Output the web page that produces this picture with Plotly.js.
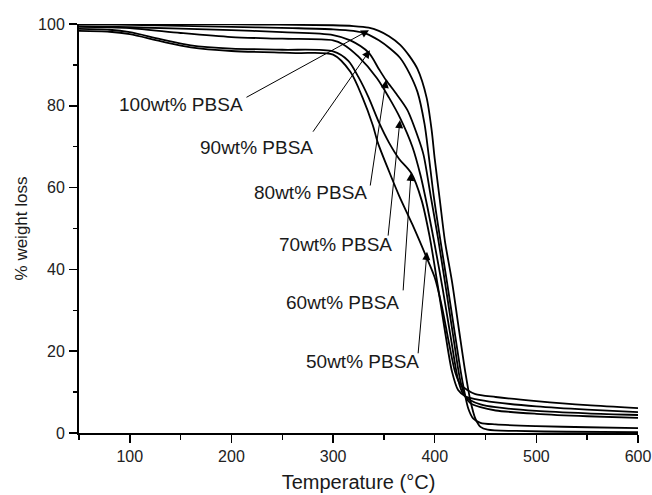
<!DOCTYPE html>
<html>
<head>
<meta charset="utf-8">
<script src="https://cdn.plot.ly/plotly-3.0.1.min.js"></script>
<style>html,body{margin:0;padding:0;background:#fff;}#chart{width:652px;height:495px;}</style>
</head>
<body>
<div id="chart"></div>
<script>
// Temperature (°C) and % weight for each sample
const tempA = [50,100,200,300,320,335,345,355,366,375,383,392,397,400,405,410,417,424,430,435,440,445,452,480,530,600];
const wtA   = [100,100,99.9,99.7,99.5,99.1,98.3,97,94.9,92.2,89,82,74,67,57,47,37,25,15,8,3.5,1.5,0.8,0.5,0.3,0.2];

const tempB = [50,100,200,260,300,320,333,345,356,366,375,383,390,394,399,405,412,420,427,433,438,445,460,500,550,600];
const wtB   = [100,99.8,99.3,99,98.7,98.3,97.6,96,94,91.7,88,83.4,75.5,68,58,48,37,24,13,6,3.5,2.5,2.1,1.7,1.4,1.2];

const tempC = [50,100,200,250,300,317,335,345,352,362,373,384,389,396,403,410,418,425,430,435,445,460,500,550,600];
const wtC   = [99.5,99.2,98.5,98,97.3,96,93,89,86.3,83,79,72,68,58,48,37,24,13,9,7.3,6.3,5.5,4.7,4.1,3.7];

const tempD = [50,100,150,200,250,300,310,325,343,355,366,378,386,393,400,408,416,423,428,435,445,460,500,550,600];
const wtD   = [99.3,99,97.8,96.8,96.4,96,95,92,86.8,82,77,70,63,55,46,35,23,13,9.5,8,7,6.3,5.4,4.8,4.4];

const tempE = [50,80,100,130,160,200,250,300,315,325,335,345,355,365,377,387,395,403,410,417,423,430,440,460,500,550,600];
const wtE   = [98.8,98.6,98,96.3,94.8,94,93.7,93.3,91,87,82,76,71,67,63.5,57,48,36,25,15,10.5,9,8.3,7.5,6.5,5.7,5.1];

const tempF = [50,80,100,130,160,200,250,267,300,317,329,339,344,355,365,378,391,400,407,414,420,425,432,440,460,500,550,600];
const wtF   = [98.3,98.1,97.5,95.8,94.3,93.4,93,92.9,92.5,88.3,82,75.3,71,64,58,51,43.5,38,31,22,15,12,10.5,9.5,8.8,7.8,6.8,6.1];

const sampleNames = ["100wt% PBSA","90wt% PBSA","80wt% PBSA","70wt% PBSA","60wt% PBSA","50wt% PBSA"];

// label text centres and arrow tips (data units), arrow tails as pixel offsets
const labelX = [150.4,224.2,277.3,301.9,308.8,329.4];
const labelY = [80.2,69.9,58.7,46.0,32.0,17.6];
const tipX   = [335.3,336.3,352.1,365.8,376.7,392.4];
const tipY   = [98.5,93.6,86.3,76.5,63.6,44.3];
const tailDX = [-124,-58,-16,-12,-8,-9];
const tailDY = [68,83,107,117,119,103];

const xs = [tempA,tempB,tempC,tempD,tempE,tempF];
const ys = [wtA,wtB,wtC,wtD,wtE,wtF];

const traces = xs.map((x,i)=>({
  x:x, y:ys[i], type:'scatter', mode:'lines', name:sampleNames[i],
  line:{color:'#000', width:1.8, shape:'spline', smoothing:0.8},
  hoverinfo:'skip'
}));

const font = 'Liberation Sans, Arial, Helvetica, sans-serif';
const annotations = [];
for (let i=0;i<sampleNames.length;i++){
  annotations.push({x:labelX[i], y:labelY[i], xref:'x', yref:'y', text:sampleNames[i],
    showarrow:false, font:{family:font, size:19, color:'#1a1a1a'}});
  annotations.push({x:tipX[i], y:tipY[i], xref:'x', yref:'y', text:'', showarrow:true,
    ax:tailDX[i], ay:tailDY[i], arrowhead:2, arrowsize:1.6, arrowwidth:1, arrowcolor:'#000', standoff:0});
}

const layout = {
  width:652, height:495,
  margin:{l:79, r:14, t:24, b:62},
  paper_bgcolor:'#fff', plot_bgcolor:'#fff',
  showlegend:false,
  font:{family:font, color:'#1a1a1a'},
  xaxis:{range:[50,600], tickvals:[100,200,300,400,500,600], ticks:'outside', ticklen:8, tickwidth:1.5,
    tickcolor:'#000', showline:true, linecolor:'#000', linewidth:2, showgrid:false, zeroline:false,
    tickfont:{size:16, family:font, color:'#222'}, ticklabelstandoff:0,
    minor:{dtick:50, tick0:0, ticks:'outside', ticklen:5, tickwidth:1.5, tickcolor:'#000', showgrid:false},
    title:{text:'Temperature (°C)', font:{size:20, family:font, color:'#1a1a1a'}, standoff:11}},
  yaxis:{range:[0,100], tickvals:[0,20,40,60,80,100], ticks:'outside', ticklen:8, tickwidth:1.5,
    tickcolor:'#000', showline:true, linecolor:'#000', linewidth:2, showgrid:false, zeroline:false,
    tickfont:{size:16, family:font, color:'#222'}, ticklabelstandoff:1,
    minor:{dtick:10, tick0:0, ticks:'outside', ticklen:4, tickwidth:1.5, tickcolor:'#000', showgrid:false},
    title:{text:'% weight loss', font:{size:17, family:font, color:'#1a1a1a'}, standoff:6}},
  annotations:annotations
};

Plotly.newPlot('chart', traces, layout, {displayModeBar:false, staticPlot:true});
</script>
</body>
</html>
